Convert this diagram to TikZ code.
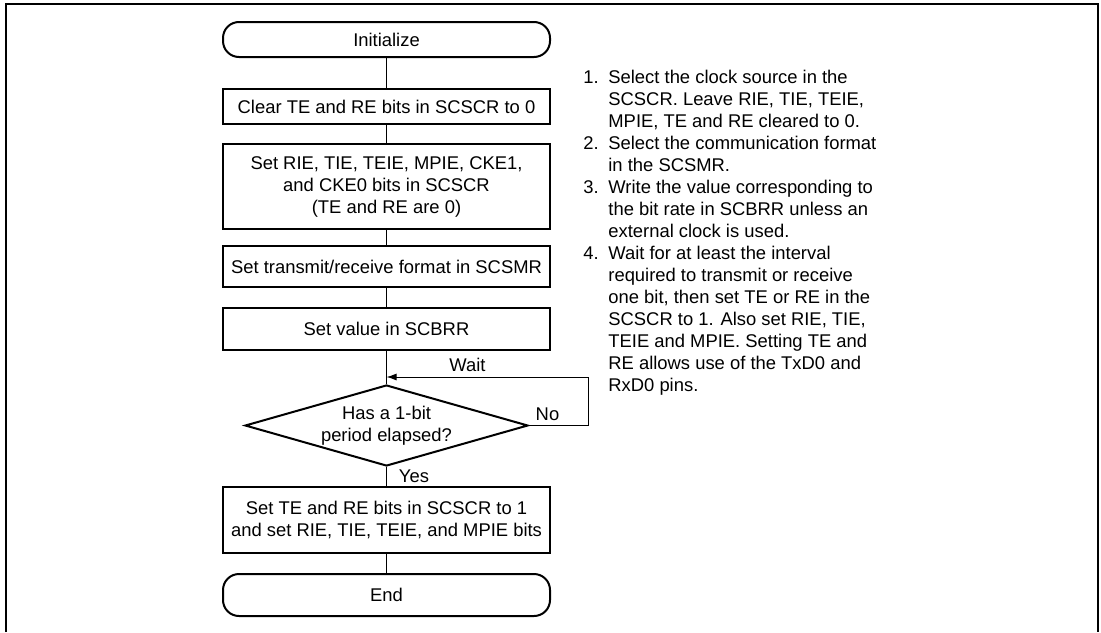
\documentclass[tikz,border=0pt]{standalone}
\usepackage{fontspec}
\setmainfont{Liberation Sans}
\usetikzlibrary{positioning, shapes.geometric, arrows.meta}

\begin{document}
\begin{tikzpicture}[x=0.5pt, y=-0.5pt,
    % Node styles
    every node/.style={font=\fontsize{9.2}{11}\selectfont},
    terminal/.style={rectangle, rounded corners=8pt, draw, line width=1pt, minimum width=163.5pt, inner sep=0pt},
    process/.style={rectangle, draw, line width=1pt, minimum width=163.5pt, align=center, inner sep=0pt},
    decision/.style={diamond, aspect=3.5, draw, line width=1pt, minimum width=141.5pt, minimum height=40.5pt, inner sep=0pt, align=center},
    tag/.style={inner sep=0pt},
    notes/.style={anchor=north west, inner sep=0pt},
    frame/.style={line width=1pt},
    % Edge styles
    conn/.style={draw, line width=0.5pt},
    loopconn/.style={conn, -{Latex[length=5pt,width=3.5pt]}}
]
\useasboundingbox (0,0) rectangle (1101,632);

% Outer frame
\draw[frame] (6,632) -- (6,4) -- (1098,4) -- (1098,632);

% Flow - Start
\node[terminal, minimum height=17.5pt] (init) at (386.5,39.5) {Initialize};

% Flow - Setup steps
\node[process, minimum height=17.5pt] (clear) at (386.5,106.5) {Clear TE and RE bits in SCSCR to 0};
\node[process, minimum height=42.5pt] (setrie) at (386.5,186.5) {Set RIE, TIE, TEIE, MPIE, CKE1,\\and CKE0 bits in SCSCR\\(TE and RE are 0)};
\node[process, minimum height=20.5pt] (fmt) at (386.5,266.5) {Set transmit/receive format in SCSMR};
\node[process, minimum height=21pt] (brr) at (386.5,329) {Set value in SCBRR};

% Flow - Wait loop
\coordinate (waitpt) at (386.5,377);
\coordinate (loopR) at (588,377);
\node[decision] (elapsed) at (386.5,425.5) {Has a 1-bit\\period elapsed?};
\node[tag] (wait) at (467.5,365) {Wait};
\node[tag] (no) at (547.5,414) {No};
\node[tag] (yes) at (414,476) {Yes};

% Flow - Enable and end
\node[process, minimum height=33pt] (sette) at (386.5,520) {Set TE and RE bits in SCSCR to 1\\and set RIE, TIE, TEIE, and MPIE bits};
\node[terminal, minimum height=21pt] (endn) at (386.5,595) {End};

% Notes
\node[notes] (steps) at (583,68) {\begin{tabular}{@{}p{12.5pt}@{}l@{}}
1. & Select the clock source in the\\
   & SCSCR. Leave RIE, TIE, TEIE,\\
   & MPIE, TE and RE cleared to 0.\\
2. & Select the communication format\\
   & in the SCSMR.\\
3. & Write the value corresponding to\\
   & the bit rate in SCBRR unless an\\
   & external clock is used.\\
4. & Wait for at least the interval\\
   & required to transmit or receive\\
   & one bit, then set TE or RE in the\\
   & SCSCR to 1. Also set RIE, TIE,\\
   & TEIE and MPIE. Setting TE and\\
   & RE allows use of the TxD0 and\\
   & RxD0 pins.
\end{tabular}};

% Draw all edges
\draw[conn] (init) -- (clear);
\draw[conn] (clear) -- (setrie);
\draw[conn] (setrie) -- (fmt);
\draw[conn] (fmt) -- (brr);
\draw[conn] (brr) -- (elapsed);
\draw[loopconn] (elapsed.east) -| (loopR) -- (waitpt);
\draw[conn] (elapsed) -- (sette);
\draw[conn] (sette) -- (endn);

\end{tikzpicture}
\end{document}
